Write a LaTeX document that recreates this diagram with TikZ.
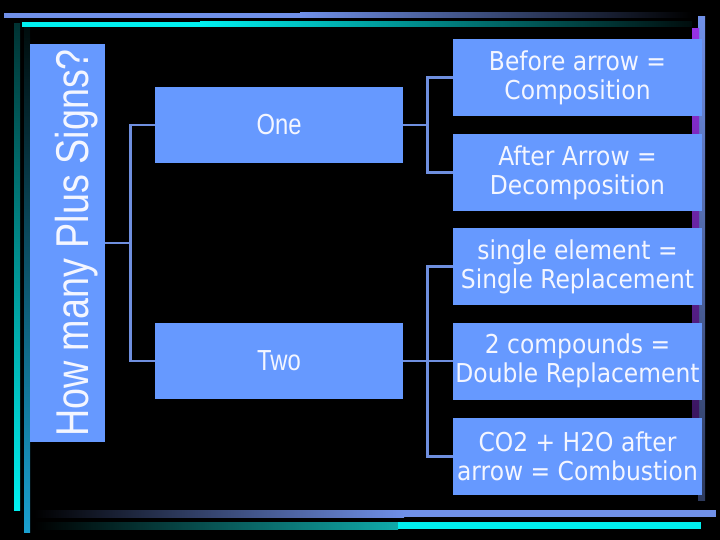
\documentclass[tikz,border=0pt]{standalone}
\usepackage{fontspec}
\setmainfont[FakeStretch=0.9]{DejaVu Sans}
\newfontfamily\narrowfont[FakeStretch=0.82]{Liberation Sans}
\definecolor{boxblue}{HTML}{6699FF}
\definecolor{linecol}{HTML}{6F8FDF}
\definecolor{txtcol}{HTML}{F4F6FF}
\definecolor{lav}{HTML}{7090E8}
\definecolor{cyanbar}{HTML}{00F0F0}
\tikzset{
  box/.style={fill=boxblue, draw=none, inner sep=0pt, text=txtcol, align=center},
  rbox/.style={box, minimum width=249pt, minimum height=77pt, font=\fontsize{26}{29}\selectfont},
  mbox/.style={box, minimum width=248pt, minimum height=76pt, font=\narrowfont\fontsize{29}{32}\selectfont},
  conn/.style={draw=linecol, line width=2.7pt}
}
\begin{document}
\begin{tikzpicture}[x=1pt,y=-1pt]
\useasboundingbox (0,0) rectangle (720,540);
\fill[black] (0,0) rectangle (720,540);
% decorative bars
\fill[lav] (4,13) rectangle (300,18);
\shade[left color=lav, right color=black] (300,13) rectangle (692,18);
\fill[cyanbar] (22,22) rectangle (200,27);
\shade[left color=cyanbar, right color=black!90!teal] (200,22) rectangle (692,27);
\shade[top color=black!80!cyan, bottom color=cyanbar] (14,24) rectangle (20,510);
\shade[top color=black!90!teal, bottom color={rgb,255:red,26;green,160;blue,208}] (24,28) rectangle (30,532);
\shade[left color=black, right color=lav] (34,510) rectangle (404,517);
\fill[lav] (404,510) rectangle (716,517);
\shade[left color=black, right color={rgb,255:red,16;green,170;blue,170}] (34,522) rectangle (398,529);
\fill[cyanbar] (398,522) rectangle (701,529);
\shade[top color=lav, bottom color=black!60!lav] (698,17) rectangle (705,500);
\shade[top color={rgb,255:red,150;green,50;blue,230}, bottom color={rgb,255:red,40;green,16;blue,70}] (692,29) rectangle (699,492);
% nodes
\node[box, rotate=90, minimum width=398pt, minimum height=75pt, font=\narrowfont\fontsize{46}{50}\selectfont] (title) at (67.5,243) {\raisebox{-9pt}[\height][\depth]{How many Plus Signs?}};
\node[mbox] (one) at (279,125) {One};
\node[mbox] (two) at (279,361) {Two};
\node[rbox] (b1) at (577.5,77.5) {Before arrow =\\Composition};
\node[rbox] (b2) at (577.5,172.5) {After Arrow =\\Decomposition};
\node[rbox] (b3) at (577.5,266.5) {single element =\\Single Replacement};
\node[rbox] (b4) at (577.5,361) {2 compounds =\\Double Replacement};
\node[rbox] (b5) at (577.5,456.5) {CO2 + H2O after\\arrow = Combustion};
% connectors
\draw[conn] (title.south) -- ++(25,0) coordinate (j1);
\draw[conn] (j1) |- (one.west);
\draw[conn] (j1) |- (two.west);
\draw[conn] (one.east) -- ++(24,0) coordinate (j2);
\draw[conn] (j2) |- (b1.west);
\draw[conn] (j2) |- (b2.west);
\draw[conn] (two.east) -- ++(24,0) coordinate (j3);
\draw[conn] (j3) |- (b3.west);
\draw[conn] (j3) -- (b4.west);
\draw[conn] (j3) |- (b5.west);
\end{tikzpicture}
\end{document}
